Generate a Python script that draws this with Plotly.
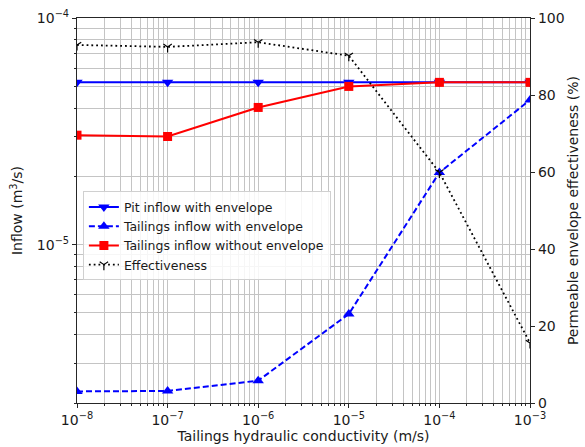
import numpy as np
import plotly.graph_objects as go

# Data
conductivity = [1e-8, 1e-7, 1e-6, 1e-5, 1e-4, 1e-3]
pit_inflow_env = [5.2e-5, 5.2e-5, 5.2e-5, 5.2e-5, 5.2e-5, 5.2e-5]
tailings_inflow_env = [2.25e-6, 2.26e-6, 2.51e-6, 4.94e-6, 2.08e-5, 4.35e-5]
tailings_inflow_noenv = [3.04e-5, 3.0e-5, 4.03e-5, 4.99e-5, 5.2e-5, 5.2e-5]
effectiveness = [93.0, 92.5, 93.7, 90.2, 59.9, 15.6]

x_tickvals = [1e-8, 1e-7, 1e-6, 1e-5, 1e-4, 1e-3]
x_ticktext = ["10<sup>−8</sup>", "10<sup>−7</sup>", "10<sup>−6</sup>",
              "10<sup>−5</sup>", "10<sup>−4</sup>", "10<sup>−3</sup>"]
y_tickvals = [1e-5, 1e-4]
y_ticktext = ["10<sup>−5</sup>", "10<sup>−4</sup>"]

x_minor = [m * 10.0 ** e for e in range(-8, -3) for m in range(2, 10)]
y_minor = [m * 10.0 ** e for e in (-6, -5) for m in range(2, 10)]

FONT = "DejaVu Sans"
GRID = "#c4c4c4"
AX = "#262626"

fig = go.Figure()
fig.add_trace(go.Scatter(
    x=conductivity, y=pit_inflow_env, name="Pit inflow with envelope",
    mode="lines+markers", line=dict(color="#0000ff", width=2),
    marker=dict(symbol="triangle-down", size=10, color="#0000ff")))
fig.add_trace(go.Scatter(
    x=conductivity, y=tailings_inflow_env, name="Tailings inflow with envelope",
    mode="lines+markers", line=dict(color="#0000ff", width=2, dash="6px,3px"),
    marker=dict(symbol="triangle-up", size=10, color="#0000ff")))
fig.add_trace(go.Scatter(
    x=conductivity, y=tailings_inflow_noenv, name="Tailings inflow without envelope",
    mode="lines+markers", line=dict(color="#ff0000", width=2),
    marker=dict(symbol="square", size=9, color="#ff0000")))
fig.add_trace(go.Scatter(
    x=conductivity, y=effectiveness, name="Effectiveness", yaxis="y2",
    mode="lines+markers", line=dict(color="black", width=1.8, dash="1.8px,3px"),
    marker=dict(symbol="y-down", size=7, color="black",
                line=dict(color="black", width=1.2))))

fig.update_layout(
    width=585, height=447,
    margin=dict(l=77, r=55, t=18, b=44),
    paper_bgcolor="white", plot_bgcolor="white",
    font=dict(family=FONT, size=14, color="#1a1a1a"),
    showlegend=True,
    legend=dict(x=0.013, y=0.55, xanchor="left", yanchor="top",
                bgcolor="rgba(255,255,255,0.85)", bordercolor="#d0d0d0",
                borderwidth=1, font=dict(family=FONT, size=12.5),
                tracegroupgap=0, itemwidth=30),
    xaxis=dict(
        type="log", range=[-8, -3], automargin=False,
        tickmode="array", tickvals=x_tickvals, ticktext=x_ticktext,
        ticks="outside", ticklen=4, tickcolor=AX,
        showgrid=True, gridcolor=GRID, gridwidth=1,
        minor=dict(tickvals=x_minor, ticks="outside", ticklen=2, tickcolor=AX,
                   showgrid=True, gridcolor=GRID, gridwidth=1),
        showline=True, linecolor=AX, linewidth=1.2, mirror=True,
        tickfont=dict(size=14),
        title=dict(text="Tailings hydraulic conductivity (m/s)",
                   font=dict(size=14), standoff=4),
        zeroline=False),
    yaxis=dict(
        type="log", range=[np.log10(2e-6), -4], automargin=False,
        tickmode="array", tickvals=y_tickvals, ticktext=y_ticktext,
        ticks="outside", ticklen=4, tickcolor=AX,
        showgrid=True, gridcolor=GRID, gridwidth=1,
        minor=dict(tickvals=y_minor, ticks="outside", ticklen=2, tickcolor=AX,
                   showgrid=True, gridcolor=GRID, gridwidth=1),
        showline=True, linecolor=AX, linewidth=1.2,
        tickfont=dict(size=14),
        title=dict(text="Inflow (m<sup>3</sup>/s)", font=dict(size=14), standoff=10),
        zeroline=False),
    yaxis2=dict(
        overlaying="y", side="right", range=[0, 100], automargin=False,
        tickmode="array", tickvals=[0, 20, 40, 60, 80, 100],
        ticks="outside", ticklen=4, tickcolor=AX,
        showgrid=False, showline=True, linecolor=AX, linewidth=1.2,
        tickfont=dict(size=14),
        title=dict(text="Permeable envelope effectiveness (%)",
                   font=dict(size=14), standoff=4),
        zeroline=False),
)

fig.write_html("out.html", config={"displayModeBar": False},
               post_script="document.body.style.margin='0';")
